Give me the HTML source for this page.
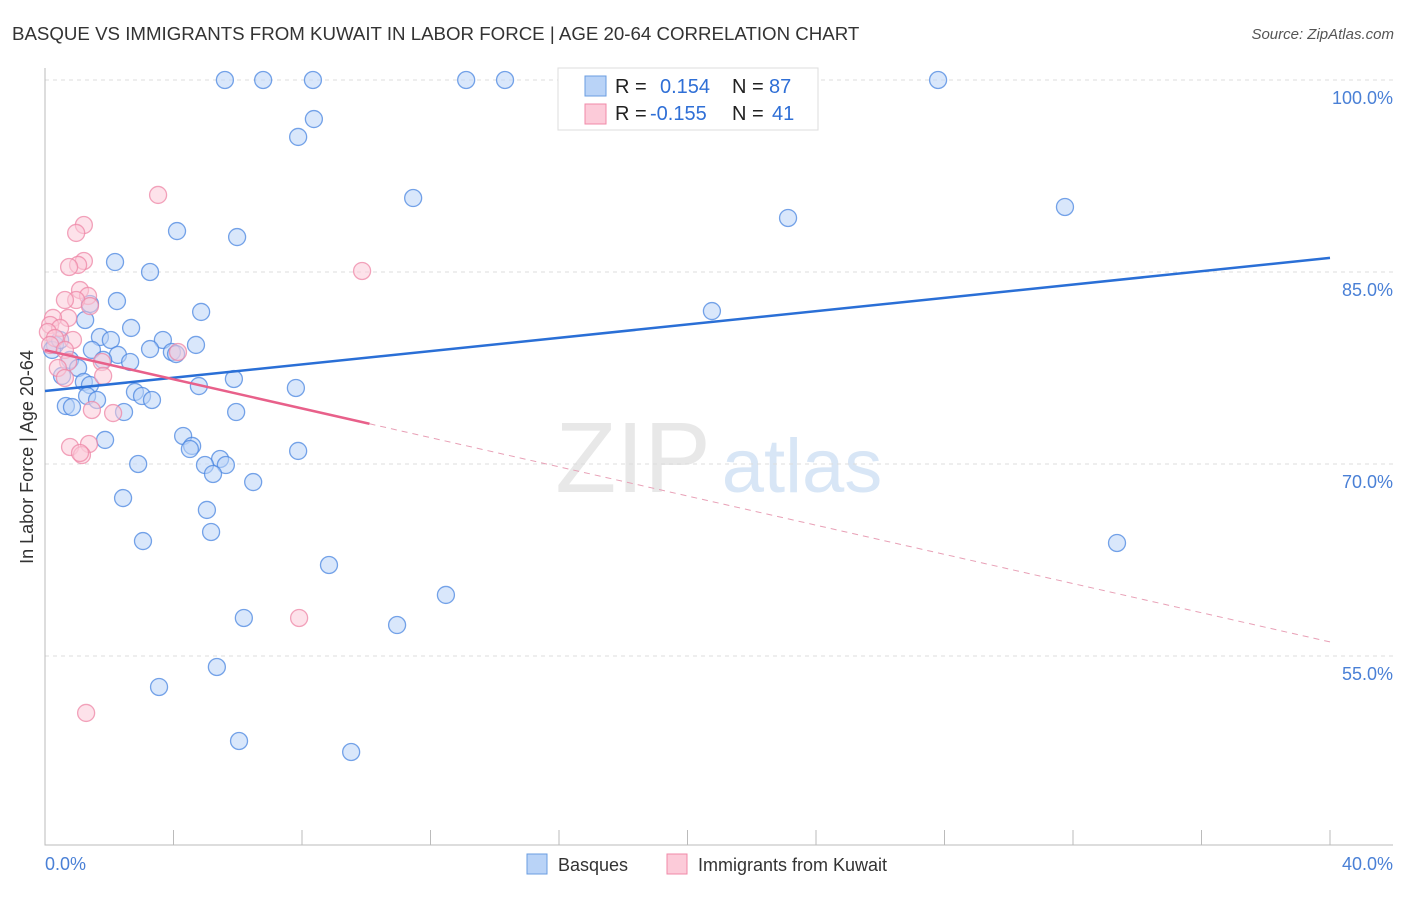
<!DOCTYPE html>
<html><head><meta charset="utf-8"><style>
body{margin:0;background:#fff;font-family:"Liberation Sans",sans-serif}
svg text{font-family:"Liberation Sans",sans-serif}
</style></head><body>
<svg id="c" width="1406" height="892" xmlns="http://www.w3.org/2000/svg">
<text x="12" y="40" font-size="18.7" fill="#333">BASQUE VS IMMIGRANTS FROM KUWAIT IN LABOR FORCE | AGE 20-64 CORRELATION CHART</text>
<text x="1394" y="39" font-size="15" fill="#555" font-style="italic" text-anchor="end">Source: ZipAtlas.com</text>
<text x="0" y="0" transform="translate(33,457) rotate(-90)" font-size="18" fill="#333" text-anchor="middle">In Labor Force | Age 20-64</text>
<text x="633" y="492" font-size="100" fill="#e8e8e8" font-family="Liberation Serif" text-anchor="middle">ZIP</text>
<text x="802" y="492" font-size="76" fill="#d8e6f6" text-anchor="middle">atlas</text>
<g id="grid"></g><g id="axes"></g><g id="pts"></g><g id="trend"></g>
<rect x="558" y="68" width="260" height="62" fill="#fff" stroke="#ddd"/>
<rect x="585" y="76" width="21" height="20" fill="#b9d3f7" stroke="#6a9ce0"/>
<rect x="585" y="104" width="21" height="20" fill="#fccbd9" stroke="#f08aa8"/>
<text y="93" font-size="20" fill="#222"><tspan x="615">R = </tspan><tspan x="660" fill="#2f6fd6">0.154</tspan><tspan x="732">N = </tspan><tspan x="769" fill="#2f6fd6">87</tspan></text>
<text y="120" font-size="20" fill="#222"><tspan x="615">R = </tspan><tspan x="650" fill="#2f6fd6">-0.155</tspan><tspan x="732">N = </tspan><tspan x="772" fill="#2f6fd6">41</tspan></text>
<rect x="527" y="854" width="20" height="20" fill="#b9d3f7" stroke="#6a9ce0"/>
<text x="558" y="871" font-size="18" fill="#333">Basques</text>
<rect x="667" y="854" width="20" height="20" fill="#fccbd9" stroke="#f08aa8"/>
<text x="698" y="871" font-size="18" fill="#333">Immigrants from Kuwait</text>
<text x="45" y="870" font-size="18" fill="#4a80d6">0.0%</text>
<text x="1393" y="870" font-size="18" fill="#4a80d6" text-anchor="end">40.0%</text>
</svg>
<script>
const blueX=[5.60,6.79,8.34,13.11,14.32,27.80,8.37,7.88,11.46,23.13,31.75,4.11,5.98,2.18,3.27,2.24,1.40,4.86,20.76,1.25,2.68,1.71,2.05,3.67,4.70,3.27,3.95,4.08,1.46,2.27,0.31,0.22,0.47,0.78,1.81,2.65,1.03,0.53,5.88,1.21,1.40,4.79,7.81,2.80,3.02,1.31,1.62,3.33,0.65,0.84,2.46,5.95,4.30,1.87,4.58,4.51,7.88,2.90,5.45,4.98,5.63,5.23,6.48,2.43,5.04,5.17,3.05,33.37,8.84,12.48,6.19,10.96,5.35,3.55,6.04,9.53];
const blueY=[100,100,100,100,100,100,96.95,95.55,90.78,89.22,90.08,88.20,87.73,85.78,85.0,82.73,82.5,81.88,81.95,81.25,80.63,79.92,79.69,79.69,79.30,78.98,78.75,78.59,78.91,78.52,79.30,78.91,79.69,78.13,78.13,77.97,77.5,76.88,76.64,76.41,76.17,76.09,75.94,75.63,75.31,75.31,75.0,75.0,74.53,74.45,74.06,74.06,72.19,71.88,71.41,71.17,71.02,70.0,70.39,69.92,69.92,69.22,68.59,67.34,66.41,64.69,63.98,63.83,62.11,59.77,57.97,57.42,54.14,52.58,48.36,47.5];
const pinkX=[3.52,1.21,0.97,1.21,1.03,0.75,9.87,1.09,1.34,0.97,0.62,1.40,0.72,0.25,0.16,0.47,0.09,0.31,0.87,0.16,0.62,4.14,0.72,1.77,0.40,1.81,0.62,1.46,2.12,0.78,1.37,1.15,1.09,7.91,1.28];
const pinkY=[91.02,88.67,88.05,85.86,85.55,85.39,85.08,83.59,83.13,82.81,82.81,82.34,81.41,81.41,80.86,80.63,80.31,79.84,79.69,79.30,78.91,78.75,77.97,77.97,77.5,76.88,76.72,74.22,73.98,71.33,71.56,70.7,70.86,57.97,50.55];
const blueTrend=[75.7,86.1];
const pinkTrend=[78.9,56.1];
const pinkSolidEnd=10.1;
const yTicks=[100,85,70,55];
const xTicks=[0,4,8,12,16,20,24,28,32,36,40];
const NS="http://www.w3.org/2000/svg";
const X=v=>45+v/40*1285, Y=v=>80+(100-v)*12.8;
function mk(p,t,a){const e=document.createElementNS(NS,t);for(const k in a)e.setAttribute(k,a[k]);document.getElementById(p).appendChild(e);return e;}
yTicks.forEach(t=>{const l=mk('grid','line',{x1:45,x2:1393,y1:Y(t),y2:Y(t),stroke:'#ddd','stroke-dasharray':'4,4'});


const tx=mk('grid','text',{x:1393,y:Y(t)+24,'font-size':18,fill:'#4a80d6','text-anchor':'end'});tx.textContent=t.toFixed(1)+'%';

});
const ax=mk('axes','path',{d:'M45,68V845H1393',stroke:'#bbb',fill:'none'});


xTicks.forEach(t=>{const l=mk('axes','line',{x1:X(t),x2:X(t),y1:830,y2:845,stroke:'#bbb'});

});
function pts(xs,ys,f,s,n){xs.forEach((x,i)=>{const c=mk('pts','circle',{cx:X(x),cy:Y(ys[i]),r:8.5,fill:f,'fill-opacity':0.55,stroke:s,'stroke-opacity':0.75,'stroke-width':1.3});

});}
pts(blueX,blueY,'#b9d3f7','#4a86e0','basques-point');
pts(pinkX,pinkY,'#fccbd9','#ee86a6','kuwait-point');
const bl=mk('trend','line',{x1:X(0),y1:Y(blueTrend[0]),x2:X(40),y2:Y(blueTrend[1]),stroke:'#2a6fd6','stroke-width':2.5});


const pe=pinkTrend[0]+(pinkTrend[1]-pinkTrend[0])*pinkSolidEnd/40;
const pl=mk('trend','line',{x1:X(0),y1:Y(pinkTrend[0]),x2:X(pinkSolidEnd),y2:Y(pe),stroke:'#e8608a','stroke-width':2.5});


const pd=mk('trend','line',{x1:X(pinkSolidEnd),y1:Y(pe),x2:X(40),y2:Y(pinkTrend[1]),stroke:'#e8a0b6','stroke-width':1,'stroke-dasharray':'6,5'});


</script>
</body></html>
